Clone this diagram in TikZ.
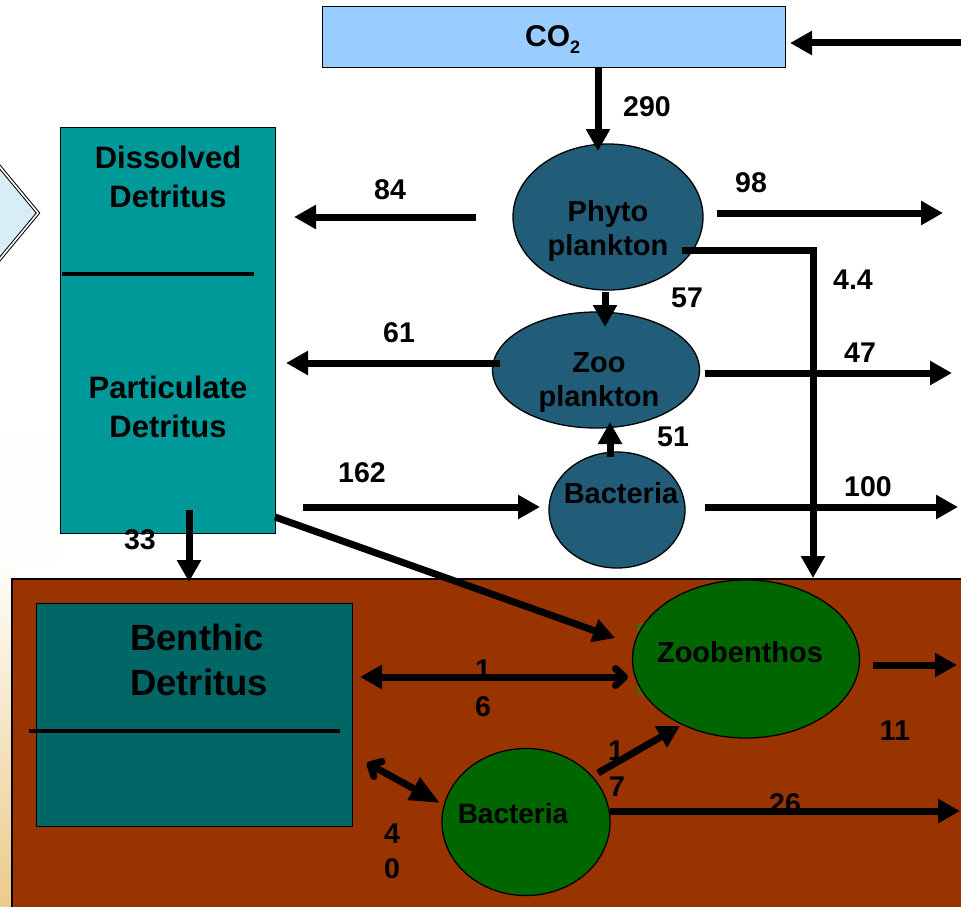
\documentclass[tikz,border=0pt]{standalone}
\usepackage{fontspec}
\setmainfont{Liberation Sans}
\usetikzlibrary{arrows.meta,shapes.geometric,calc}
\definecolor{cobox}{HTML}{99CCFF}
\definecolor{plank}{HTML}{215D78}
\definecolor{detr}{HTML}{009999}
\definecolor{benth}{HTML}{006666}
\definecolor{sed}{HTML}{993300}
\definecolor{bgreen}{HTML}{006600}
\definecolor{tanbg}{HTML}{EBCB8B}
\definecolor{diamfill}{HTML}{D8EEF5}
\definecolor{olive}{HTML}{4D6600}
\tikzset{
  flow/.style={line width=7pt, -{Triangle[length=22pt,width=23pt]}},
  box/.style={draw=black, line width=1.3pt, inner sep=0pt, anchor=north west},
  blob/.style={ellipse, draw=black, line width=1.3pt, inner sep=0pt},
  num/.style={font=\fontsize{28.5}{34}\selectfont\bfseries, anchor=base, inner sep=0pt},
  lbl/.style={font=\fontsize{29}{34}\selectfont\bfseries, anchor=base, inner sep=0pt},
  dlbl/.style={font=\fontsize{31}{37}\selectfont\bfseries, anchor=base, inner sep=0pt},
  blbl/.style={font=\fontsize{36.5}{44}\selectfont\bfseries, anchor=base, inner sep=0pt},
  divider/.style={line width=4pt}
}
\begin{document}
\begin{tikzpicture}[x=1pt,y=-1pt]
\useasboundingbox (0,0) rectangle (961,907);
\clip (0,0) rectangle (961,907);
% background
\fill[white] (0,0) rectangle (961,907);
\shade[top color=white, bottom color=white!97!tanbg] (0,380) rectangle (60,560);
\shade[top color=white!97!tanbg, bottom color=tanbg] (0,560) rectangle (14,907);
% partial diamond at left edge
\draw[draw=black, double=white, double distance=1.6pt, line width=1pt, fill=diamfill]
  (38,213) -- (-20,143) -- (-78,213) -- (-20,283) -- cycle;
% upper compartments
\node[box, fill=detr, minimum width=215pt, minimum height=406pt] (detritus) at (60,127) {};
\draw[divider] (62,274) -- (254,274);
\node[dlbl] (dissA) at (168,168) {Dissolved};
\node[dlbl] (dissB) at (168,207) {Detritus};
\node[dlbl] (partA) at (168,398) {Particulate};
\node[dlbl] (partB) at (168,437) {Detritus};
\node[box, fill=cobox, minimum width=463pt, minimum height=61pt] (co2) at (322,6) {};
\node[anchor=base west, inner sep=0pt, font=\fontsize{30}{34}\selectfont\bfseries] (co2t) at (525,47)
  {CO\raisebox{-7pt}{\fontsize{18}{18}\selectfont 2}};
\node[blob, fill=plank, minimum width=190pt, minimum height=146pt] (phyto) at (608,217) {};
\node[lbl] (phytoA) at (608,221) {Phyto};
\node[lbl] (phytoB) at (608,255) {plankton};
\node[blob, fill=plank, minimum width=207pt, minimum height=116pt] (zoo) at (596,370) {};
\node[lbl] (zooA) at (599,372) {Zoo};
\node[lbl] (zooB) at (599,406) {plankton};
\node[blob, fill=plank, minimum width=136pt, minimum height=116pt] (bact) at (617,510) {};
\node[lbl] (bactA) at (621,503) {Bacteria};
% sediment
\draw[fill=sed, line width=1.3pt] (12,579) rectangle (975,920);
\node[box, fill=benth, minimum width=316pt, minimum height=223pt] (benthic) at (36,603) {};
\draw[divider] (29,731) -- (340,731);
\node[blbl] (benA) at (197,650) {Benthic};
\node[blbl] (benB) at (199,695) {Detritus};
\fill[olive] (637,623) rectangle (646,695);
\node[blob, fill=bgreen, minimum width=227pt, minimum height=158pt] (zoob) at (746,659) {};
\node[lbl] (zoobA) at (740,662) {Zoobenthos};
\node[blob, fill=bgreen, minimum width=168pt, minimum height=147pt] (bbact) at (526,822) {};
\node[font=\fontsize{28}{34}\selectfont\bfseries, anchor=base, inner sep=0pt] (bbactA) at (513,823) {Bacteria};
% connector end points
\coordinate (ext0) at (961,43);
\coordinate (co2in) at (790,43);
\coordinate (co2out) at (598,67);
\coordinate (phin) at (598,151);
\coordinate (ph84) at (476,217);
\coordinate (dd84) at (294,217);
\coordinate (ph98) at (717,213);
\coordinate (ext98) at (943,213);
\coordinate (ph44) at (682,250);
\coordinate (bend44) at (813,250);
\coordinate (sed44) at (813,578);
\coordinate (ph57) at (605,292);
\coordinate (zo57) at (605,327);
\coordinate (zo61) at (500,363);
\coordinate (pd61) at (286,363);
\coordinate (zo47) at (705,373);
\coordinate (ext47) at (952,373);
\coordinate (ba51) at (610,457);
\coordinate (zo51) at (610,422);
\coordinate (pd162) at (303,507);
\coordinate (ba162) at (540,507);
\coordinate (ba100) at (705,507);
\coordinate (ext100) at (958,507);
\coordinate (pd33) at (189,510);
\coordinate (sed33) at (189,582);
\coordinate (pdz) at (275,517);
\coordinate (zbin) at (615,638);
\coordinate (zb11) at (873,665);
\coordinate (ext11) at (957,665);
\coordinate (bd16) at (360,677);
\coordinate (zb16) at (628,677);
\coordinate (bd40) at (367,763);
\coordinate (bb40) at (440,803);
\coordinate (bb17) at (598,773);
\coordinate (zb17) at (680,726);
\coordinate (bb26) at (610,811);
\coordinate (ext26) at (960,811);
% flow values (some are partly covered by the arrows drawn after them)
\node[num] (v290) at (647,116) {290};
\node[num] (v98) at (751,192) {98};
\node[num] (v84) at (390,199) {84};
\node[num] (v44) at (853,289) {4.4};
\node[num] (v57) at (687,307) {57};
\node[num] (v61) at (399,342) {61};
\node[num] (v47) at (860,362) {47};
\node[num] (v51) at (673,446) {51};
\node[num] (v162) at (362,482) {162};
\node[num] (v100) at (868,496) {100};
\node[num] (v33) at (140,549) {33};
\node[num] (v11) at (895,740) {11};
\node[num] (v16a) at (483,679) {1};
\node[num] (v16b) at (483,716) {6};
\node[num] (v17a) at (616,760) {1};
\node[num] (v17b) at (617,796) {7};
\node[num] (v40a) at (392,843) {4};
\node[num] (v40b) at (392,878) {0};
\node[num] (v26) at (785,813) {26};
% connectors
\draw[flow] (ext0) -- (co2in);
\draw[flow] (co2out) -- (phin);
\draw[flow] (ph84) -- (dd84);
\draw[flow] (ph98) -- (ext98);
\draw[flow, line join=miter] (ph44) -- (bend44) -- (sed44);
\draw[flow] (ph57) -- (zo57);
\draw[flow] (zo61) -- (pd61);
\draw[flow] (zo47) -- (ext47);
\draw[flow] (ba51) -- (zo51);
\draw[flow] (pd162) -- (ba162);
\draw[flow] (ba100) -- (ext100);
\draw[flow] (pd33) -- (sed33);
\draw[flow] (pdz) -- (zbin);
\draw[flow] (zb11) -- (ext11);
\draw[line width=7pt, {Triangle[length=22pt,width=23pt]}-{Straight Barb[round,length=9pt,width=17pt]}] (bd16) -- (zb16);
\draw[line width=7pt, {Straight Barb[round,length=9pt,width=17pt]}-{Triangle[length=30pt,width=24pt]}] (bd40) -- (bb40);
\draw[flow] (bb17) -- (zb17);
\draw[flow] (bb26) -- (ext26);
\end{tikzpicture}
\end{document}
